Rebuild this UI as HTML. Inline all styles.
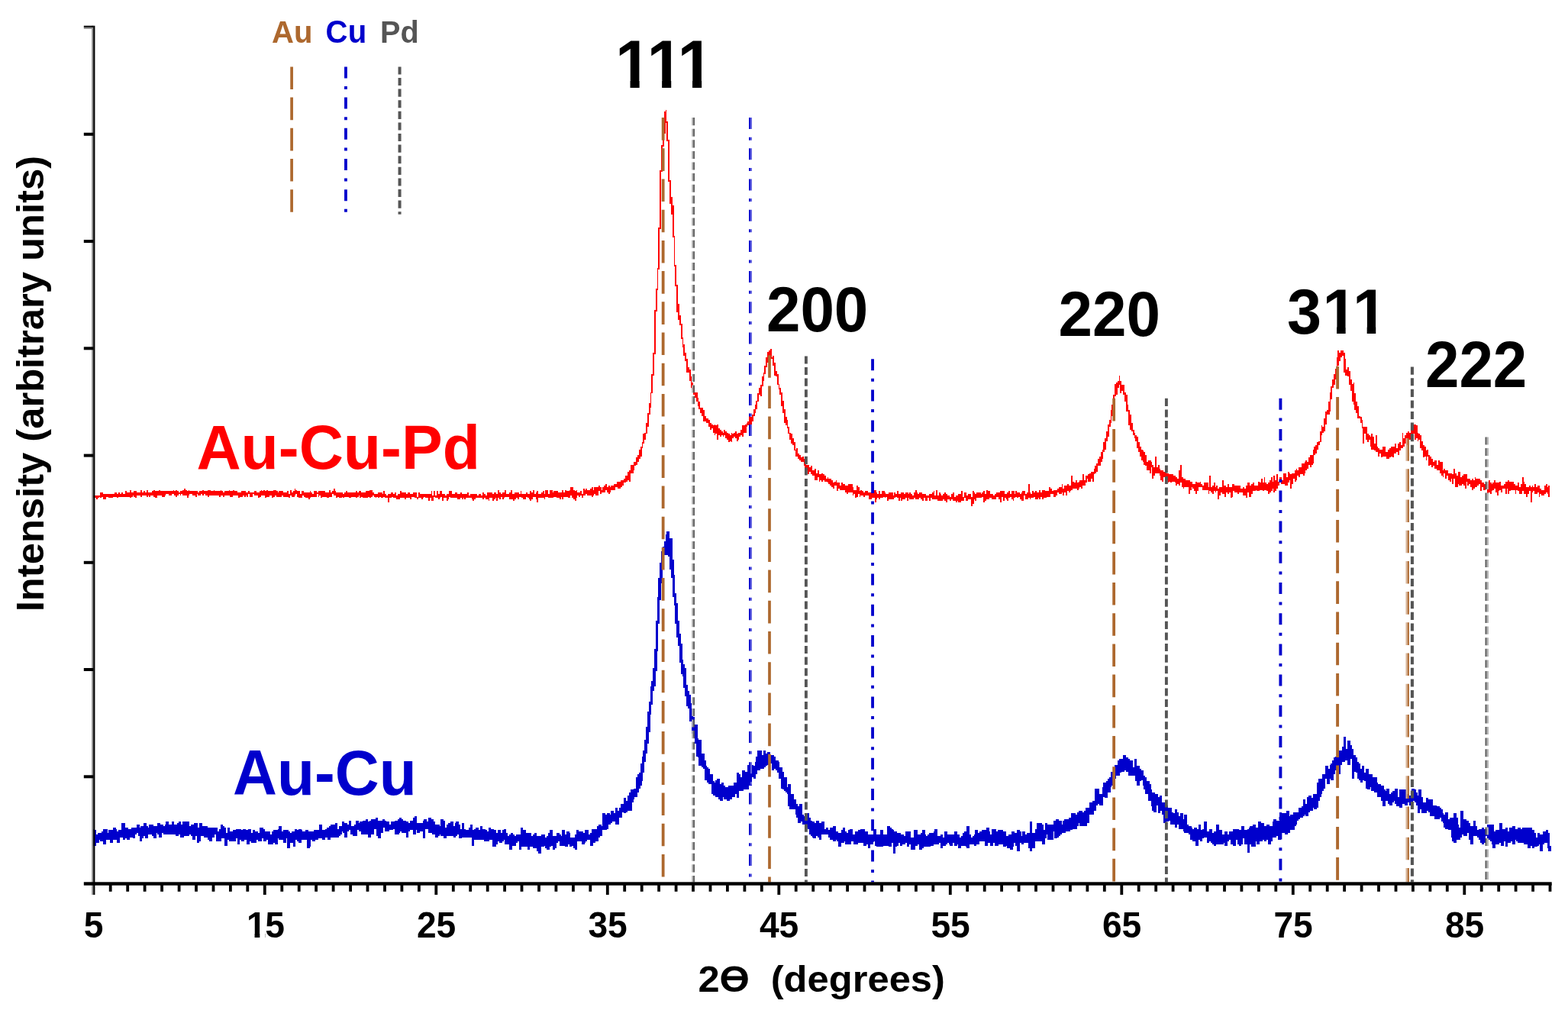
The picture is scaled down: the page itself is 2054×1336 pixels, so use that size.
<!DOCTYPE html>
<html lang="en"><head><meta charset="utf-8"><title>XRD patterns of Au-Cu-Pd and Au-Cu</title>
<style>html,body{margin:0;padding:0;background:#fff;overflow:hidden}svg{display:block}text{font-family:"Liberation Sans",sans-serif;font-weight:bold;white-space:pre}</style></head><body>
<svg width="2054" height="1336" viewBox="0 0 2054 1336">
<rect width="2054" height="1336" fill="#fff"/>
<path d="M122.3 1085.5H124.1V1087.4H126.0V1092.8H127.8V1091.0H133.3V1089.2H135.1V1085.5H140.6V1091.0H142.4V1087.4H147.9V1083.7H151.5V1085.5H153.4V1089.2H155.2V1087.4H158.8V1078.2H164.3V1083.7H168.0V1085.5H171.6V1083.7H179.0V1080.1H182.6V1083.7H184.4V1081.9H188.1V1078.2H191.7V1081.9H193.6V1083.7H195.4V1080.1H200.9V1081.9H206.4V1078.2H210.0V1080.1H213.7V1081.9H215.5V1080.1H217.3V1076.4H221.0V1080.1H224.6V1076.4H228.3V1080.1H231.9V1078.2H233.8V1076.4H237.4V1080.1H239.3V1076.4H248.4V1081.9H250.2V1080.1H253.9V1078.2H259.4V1083.7H261.2V1078.2H264.8V1081.9H272.2V1083.7H284.9V1089.2H286.8V1085.5H288.6V1080.1H292.3V1081.9H294.1V1083.7H295.9V1091.0H297.7V1083.7H301.4V1089.2H305.0V1087.4H308.7V1085.5H316.0V1087.4H317.8V1085.5H321.5V1087.4H325.2V1085.5H328.8V1091.0H330.6V1087.4H334.3V1089.2H337.9V1091.0H339.8V1083.7H345.3V1085.5H347.1V1089.2H354.4V1092.8H356.2V1089.2H358.0V1087.4H363.5V1085.5H365.4V1081.9H369.0V1089.2H370.8V1087.4H378.1V1089.2H380.0V1091.0H381.8V1089.2H385.5V1085.5H389.1V1087.4H390.9V1085.5H394.6V1087.4H396.4V1089.2H400.1V1087.4H403.7V1089.2H411.0V1087.4H418.4V1080.1H422.0V1087.4H425.7V1085.5H427.5V1083.7H431.1V1081.9H433.0V1080.1H438.5V1078.2H442.1V1085.5H443.9V1081.9H447.6V1076.4H451.2V1078.2H454.9V1080.1H456.7V1074.6H460.4V1081.9H464.0V1080.1H465.9V1074.6H469.5V1078.2H471.4V1076.4H475.0V1074.6H478.7V1072.7H482.3V1076.4H484.1V1074.6H486.0V1072.7H491.5V1070.9H495.1V1074.6H500.6V1072.7H504.2V1074.6H506.1V1076.4H509.7V1080.1H511.6V1076.4H517.0V1074.6H520.7V1072.7H522.5V1070.9H526.2V1072.7H528.0V1074.6H531.7V1076.4H535.3V1078.2H537.1V1074.6H540.8V1070.9H542.6V1069.1H546.3V1078.2H553.6V1074.6H555.4V1072.7H559.1V1076.4H560.9V1070.9H564.6V1072.7H568.2V1076.4H570.0V1080.1H575.5V1081.9H577.3V1072.7H581.0V1074.6H582.8V1083.7H584.7V1080.1H586.5V1078.2H590.1V1076.4H593.8V1081.9H595.6V1078.2H597.4V1076.4H601.1V1080.1H602.9V1085.5H604.8V1078.2H608.4V1085.5H610.2V1087.4H613.9V1083.7H615.7V1080.1H619.4V1087.4H621.2V1085.5H623.0V1083.7H626.7V1087.4H628.5V1081.9H632.2V1085.5H635.8V1087.4H637.7V1089.2H639.5V1083.7H643.1V1085.5H646.8V1087.4H650.4V1091.0H652.3V1087.4H655.9V1091.0H657.8V1087.4H659.6V1085.5H663.2V1091.0H665.1V1094.7H666.9V1092.8H668.7V1091.0H672.4V1092.8H674.2V1094.7H676.0V1092.8H681.5V1083.7H685.2V1087.4H688.8V1091.0H696.1V1094.7H698.0V1092.8H699.8V1091.0H703.4V1094.7H708.9V1092.8H714.4V1096.5H716.2V1094.7H718.1V1091.0H719.9V1087.4H723.5V1094.7H729.0V1091.0H732.7V1092.8H734.5V1094.7H736.3V1087.4H740.0V1092.8H741.8V1089.2H745.5V1091.0H747.3V1096.5H752.8V1092.8H754.6V1087.4H758.3V1089.2H763.8V1091.0H765.6V1087.4H771.1V1092.8H772.9V1091.0H774.7V1085.5H782.0V1081.9H783.9V1080.1H787.5V1081.9H789.3V1065.4H793.0V1067.3H794.8V1065.4H798.5V1067.3H800.3V1061.8H804.0V1065.4H805.8V1058.1H809.4V1061.8H811.3V1058.1H813.1V1052.6H816.7V1045.3H820.4V1049.0H822.2V1041.7H824.1V1038.0H825.9V1034.4H829.5V1032.5H833.2V1017.9H835.0V1014.3H836.9V1012.4H838.7V999.6H840.5V990.5H842.3V983.2H844.2V968.6H846.0V952.1H847.8V932.0H849.6V919.2H851.5V899.1H853.3V891.8H855.1V875.4H857.0V849.8H858.8V813.2H860.6V782.2H862.4V756.6H864.3V736.5H866.1V721.9H867.9V716.4H869.7V709.1H871.6V699.9H873.4V696.3H877.1V705.4H880.7V732.8H882.5V752.9H884.4V776.7H886.2V789.5H888.0V813.2H889.8V829.7H891.7V842.5H893.5V864.4H895.3V869.9H897.2V875.4H899.0V897.3H900.8V904.6H902.6V910.1H904.5V921.1H906.3V928.4H908.1V939.3H910.0V948.5H913.6V966.7H915.4V968.6H919.1V986.8H922.7V996.0H924.6V1003.3H926.4V1005.1H928.2V1007.0H930.1V1014.3H933.7V1023.4H935.5V1025.2H937.4V1021.6H939.2V1019.7H942.8V1027.1H944.7V1025.2H948.3V1028.9H950.2V1030.7H953.8V1028.9H961.1V1025.2H964.8V1012.4H968.4V1014.3H970.3V1017.9H972.1V1008.8H975.7V1010.6H979.4V1001.5H986.7V1003.3H988.5V997.8H990.4V990.5H992.2V983.2H997.7V988.7H999.5V983.2H1003.2V986.8H1005.0V985.0H1008.6V988.7H1014.1V990.5H1015.9V996.0H1019.6V997.8H1021.4V1005.1H1025.1V1010.6H1026.9V1017.9H1030.6V1030.7H1032.4V1027.1H1036.0V1039.8H1039.7V1047.2H1043.4V1052.6H1045.2V1056.3H1047.0V1052.6H1050.7V1067.3H1052.5V1069.1H1054.3V1065.4H1059.8V1070.9H1061.6V1074.6H1063.5V1076.4H1067.1V1078.2H1068.9V1074.6H1072.6V1078.2H1076.3V1076.4H1079.9V1085.5H1081.7V1083.7H1085.4V1087.4H1087.2V1083.7H1090.9V1081.9H1094.5V1089.2H1098.2V1091.0H1101.8V1087.4H1103.7V1083.7H1107.3V1089.2H1109.2V1091.0H1111.0V1087.4H1112.8V1085.5H1116.5V1092.8H1120.1V1089.2H1123.8V1087.4H1127.4V1085.5H1132.9V1089.2H1136.6V1092.8H1143.9V1085.5H1147.5V1092.8H1153.0V1087.4H1156.7V1092.8H1162.1V1081.9H1165.8V1083.7H1167.6V1085.5H1169.5V1087.4H1171.3V1089.2H1174.9V1091.0H1180.4V1092.8H1184.1V1094.7H1185.9V1089.2H1193.2V1096.5H1196.9V1087.4H1202.4V1092.8H1206.0V1091.0H1207.8V1087.4H1211.5V1092.8H1213.3V1094.7H1215.1V1092.8H1217.0V1091.0H1222.5V1089.2H1224.3V1085.5H1227.9V1094.7H1231.6V1092.8H1235.2V1096.5H1237.1V1089.2H1240.7V1092.8H1249.9V1089.2H1253.5V1092.8H1257.2V1096.5H1259.0V1094.7H1260.8V1091.0H1262.7V1089.2H1266.3V1081.9H1270.0V1092.8H1271.8V1096.5H1273.6V1094.7H1275.5V1092.8H1277.3V1087.4H1280.9V1091.0H1282.8V1089.2H1286.4V1087.4H1291.9V1083.7H1295.6V1089.2H1297.4V1092.8H1299.2V1085.5H1304.7V1089.2H1306.5V1087.4H1313.8V1089.2H1317.5V1094.7H1321.1V1092.8H1324.8V1089.2H1328.5V1091.0H1332.1V1087.4H1335.8V1089.2H1337.6V1094.7H1339.4V1089.2H1343.1V1092.8H1344.9V1091.0H1348.6V1076.4H1352.2V1091.0H1355.9V1085.5H1357.7V1078.2H1365.0V1080.1H1366.8V1087.4H1368.7V1078.2H1372.3V1080.1H1379.6V1074.6H1383.3V1072.7H1386.9V1074.6H1390.6V1080.1H1392.4V1074.6H1394.2V1072.7H1399.7V1070.9H1403.4V1065.4H1408.9V1067.3H1410.7V1063.6H1412.5V1061.8H1418.0V1063.6H1419.8V1061.8H1421.7V1058.1H1427.1V1050.8H1430.8V1049.0H1434.4V1032.5H1439.9V1039.8H1443.6V1030.7H1445.4V1025.2H1449.1V1023.4H1450.9V1019.7H1452.7V1017.9H1454.5V1010.6H1458.2V1005.1H1460.0V1001.5H1463.7V996.0H1465.5V994.2H1471.0V988.7H1474.7V992.3H1478.3V994.2H1480.1V996.0H1483.8V1005.1H1485.6V994.2H1489.3V1003.3H1492.9V1007.0H1494.8V1008.8H1498.4V1016.1H1500.2V1017.9H1502.1V1023.4H1505.7V1027.1H1507.5V1034.4H1509.4V1038.0H1513.0V1039.8H1516.7V1043.5H1518.5V1041.7H1522.2V1050.8H1527.6V1054.5H1529.5V1058.1H1535.0V1063.6H1536.8V1065.4H1538.6V1060.0H1542.3V1063.6H1544.1V1069.1H1545.9V1065.4H1549.6V1072.7H1551.4V1067.3H1555.1V1080.1H1556.9V1081.9H1560.5V1083.7H1562.4V1085.5H1564.2V1083.7H1567.9V1085.5H1569.7V1080.1H1573.3V1087.4H1575.2V1085.5H1577.0V1076.4H1580.6V1089.2H1584.3V1085.5H1588.0V1091.0H1589.8V1089.2H1593.4V1080.1H1597.1V1087.4H1600.7V1092.8H1604.4V1089.2H1608.1V1092.8H1609.9V1089.2H1615.4V1085.5H1622.7V1087.4H1626.3V1081.9H1630.0V1087.4H1633.6V1085.5H1635.5V1083.7H1637.3V1081.9H1641.0V1080.1H1644.6V1083.7H1648.3V1076.4H1651.9V1078.2H1655.6V1081.9H1659.2V1080.1H1662.9V1081.9H1666.5V1076.4H1668.4V1072.7H1672.0V1074.6H1675.7V1063.6H1679.3V1065.4H1684.8V1061.8H1688.5V1069.1H1690.3V1067.3H1694.0V1063.6H1701.3V1058.1H1704.9V1056.3H1706.7V1047.2H1710.4V1052.6H1712.2V1043.5H1714.1V1041.7H1717.7V1045.3H1719.5V1039.8H1725.0V1025.2H1726.8V1019.7H1732.3V1014.3H1736.0V1003.3H1739.6V1007.0H1741.5V1001.5H1743.3V999.6H1745.1V996.0H1746.9V992.3H1748.8V990.5H1750.6V988.7H1754.3V983.2H1757.9V977.7H1759.7V964.9H1763.4V981.4H1765.2V970.4H1768.9V975.9H1770.7V981.4H1772.5V988.7H1776.2V992.3H1778.0V997.8H1779.8V999.6H1781.7V1007.0H1783.5V1003.3H1787.2V1012.4H1789.0V1007.0H1792.6V1014.3H1798.1V1017.9H1803.6V1025.2H1805.4V1027.1H1809.1V1028.9H1812.7V1034.4H1814.6V1036.2H1816.4V1032.5H1820.0V1039.8H1821.9V1038.0H1823.7V1036.2H1827.4V1032.5H1831.0V1043.5H1832.8V1034.4H1842.0V1039.8H1845.6V1041.7H1847.5V1036.2H1849.3V1032.5H1852.9V1034.4H1854.8V1038.0H1856.6V1041.7H1858.4V1034.4H1862.1V1043.5H1863.9V1050.8H1867.6V1045.3H1871.2V1047.2H1876.7V1054.5H1882.2V1056.3H1885.8V1058.1H1887.7V1060.0H1889.5V1065.4H1891.3V1067.3H1893.1V1063.6H1896.8V1072.7H1898.6V1070.9H1904.1V1065.4H1907.8V1070.9H1909.6V1080.1H1911.4V1083.7H1913.2V1061.8H1916.9V1072.7H1920.6V1074.6H1924.2V1078.2H1926.0V1081.9H1929.7V1074.6H1933.4V1081.9H1935.2V1087.4H1937.0V1085.5H1940.7V1083.7H1944.3V1085.5H1948.0V1080.1H1957.1V1089.2H1958.9V1087.4H1964.4V1078.2H1968.1V1085.5H1971.7V1083.7H1975.4V1089.2H1977.2V1083.7H1980.9V1081.9H1984.5V1085.5H1988.2V1083.7H1991.8V1085.5H1993.7V1083.7H2006.5V1087.4H2010.1V1091.0H2011.9V1096.5H2013.8V1091.0H2017.4V1092.8H2021.1V1089.2H2024.7V1087.4H2028.4V1091.0H2030.2V1107.5H2032.0V1114.8H2028.4V1111.1H2026.6V1103.8H2022.9V1105.6H2021.1V1114.8H2017.4V1105.6H2015.6V1107.5H2013.8V1109.3H2010.1V1111.1H2006.5V1107.5H2004.6V1111.1H2001.0V1105.6H1995.5V1103.8H1988.2V1102.0H1986.3V1100.2H1984.5V1105.6H1980.9V1102.0H1979.0V1103.8H1975.4V1109.3H1971.7V1102.0H1969.9V1107.5H1966.2V1103.8H1964.4V1105.6H1958.9V1111.1H1955.3V1105.6H1953.5V1102.0H1951.6V1100.2H1949.8V1098.3H1948.0V1094.7H1946.1V1103.8H1944.3V1105.6H1940.7V1103.8H1938.8V1100.2H1937.0V1096.5H1935.2V1094.7H1929.7V1105.6H1926.0V1100.2H1924.2V1091.0H1922.4V1094.7H1916.9V1092.8H1915.1V1096.5H1913.2V1100.2H1907.8V1103.8H1904.1V1102.0H1902.3V1096.5H1900.5V1087.4H1896.8V1085.5H1893.1V1083.7H1891.3V1078.2H1889.5V1076.4H1887.7V1070.9H1885.8V1072.7H1878.5V1069.1H1873.0V1063.6H1871.2V1061.8H1869.4V1065.4H1862.1V1060.0H1860.3V1065.4H1856.6V1054.5H1854.8V1050.8H1852.9V1049.0H1851.1V1054.5H1845.6V1050.8H1843.8V1054.5H1840.1V1052.6H1836.5V1058.1H1832.8V1056.3H1829.2V1052.6H1827.4V1049.0H1825.5V1050.8H1823.7V1054.5H1820.0V1052.6H1818.2V1049.0H1814.6V1056.3H1810.9V1049.0H1809.1V1043.5H1803.6V1038.0H1799.9V1036.2H1796.3V1030.7H1794.5V1034.4H1790.8V1032.5H1789.0V1023.4H1787.2V1021.6H1785.3V1025.2H1781.7V1021.6H1779.8V1019.7H1778.0V1012.4H1776.2V1010.6H1774.4V1019.7H1770.7V994.2H1768.9V1001.5H1765.2V996.0H1761.6V997.8H1757.9V1001.5H1756.1V1014.3H1752.4V1012.4H1750.6V1008.8H1748.8V1014.3H1746.9V1021.6H1743.3V1019.7H1741.5V1027.1H1737.8V1019.7H1736.0V1032.5H1734.2V1036.2H1732.3V1039.8H1730.5V1043.5H1728.7V1049.0H1726.8V1058.1H1725.0V1060.0H1721.4V1058.1H1719.5V1061.8H1715.9V1063.6H1714.1V1069.1H1710.4V1067.3H1708.6V1069.1H1706.7V1070.9H1703.1V1072.7H1701.3V1074.6H1699.4V1080.1H1697.6V1081.9H1695.8V1087.4H1690.3V1091.0H1686.6V1092.8H1683.0V1091.0H1679.3V1087.4H1677.5V1100.2H1673.8V1094.7H1672.0V1096.5H1666.5V1102.0H1664.7V1105.6H1661.1V1100.2H1659.2V1102.0H1655.6V1100.2H1653.7V1102.0H1650.1V1105.6H1646.4V1102.0H1644.6V1109.3H1639.1V1105.6H1637.3V1116.6H1633.6V1105.6H1630.0V1098.3H1628.2V1105.6H1626.3V1107.5H1622.7V1105.6H1620.8V1100.2H1619.0V1107.5H1615.4V1105.6H1611.7V1100.2H1609.9V1102.0H1608.1V1107.5H1604.4V1103.8H1602.6V1105.6H1593.4V1107.5H1589.8V1105.6H1588.0V1103.8H1586.1V1102.0H1584.3V1103.8H1580.6V1096.5H1577.0V1098.3H1575.2V1102.0H1571.5V1100.2H1569.7V1107.5H1566.0V1102.0H1562.4V1100.2H1558.7V1092.8H1556.9V1091.0H1551.4V1089.2H1549.6V1085.5H1544.1V1080.1H1542.3V1083.7H1538.6V1080.1H1533.1V1074.6H1531.3V1076.4H1527.6V1078.2H1524.0V1067.3H1522.2V1061.8H1520.3V1065.4H1516.7V1054.5H1514.9V1063.6H1511.2V1061.8H1509.4V1056.3H1507.5V1049.0H1503.9V1039.8H1500.2V1034.4H1498.4V1028.9H1496.6V1021.6H1494.8V1023.4H1492.9V1028.9H1489.3V1023.4H1487.4V1016.1H1478.3V1010.6H1474.6V1008.8H1472.8V1010.6H1469.2V1012.4H1467.3V1016.1H1461.9V1019.7H1460.0V1028.9H1456.4V1030.7H1454.5V1038.0H1450.9V1045.3H1447.2V1043.5H1445.4V1054.5H1439.9V1052.6H1438.1V1054.5H1436.3V1061.8H1432.6V1067.3H1427.1V1078.2H1423.5V1081.9H1414.3V1078.2H1412.5V1081.9H1410.7V1085.5H1405.2V1087.4H1401.5V1089.2H1396.1V1091.0H1390.6V1092.8H1388.8V1094.7H1386.9V1096.5H1385.1V1098.3H1381.4V1089.2H1379.6V1100.2H1372.3V1092.8H1370.5V1098.3H1368.7V1105.6H1365.0V1102.0H1355.9V1111.1H1352.2V1114.8H1348.6V1111.1H1346.7V1103.8H1341.2V1105.6H1337.6V1103.8H1335.8V1114.8H1332.1V1107.5H1330.3V1103.8H1328.4V1109.3H1326.6V1112.9H1323.0V1111.1H1319.3V1107.5H1317.5V1109.3H1313.8V1105.6H1308.3V1107.5H1302.9V1103.8H1301.0V1107.5H1297.4V1103.8H1293.7V1107.5H1290.1V1102.0H1282.8V1105.6H1279.1V1107.5H1275.5V1105.6H1270.0V1111.1H1266.3V1109.3H1264.5V1107.5H1259.0V1111.1H1255.3V1105.6H1253.5V1107.5H1249.9V1103.8H1248.0V1107.5H1244.4V1105.6H1242.6V1103.8H1240.7V1105.6H1238.9V1107.5H1235.2V1111.1H1231.6V1103.8H1229.8V1105.6H1222.5V1107.5H1218.8V1109.3H1209.7V1111.1H1207.8V1112.9H1204.2V1105.6H1202.4V1107.5H1198.7V1112.9H1193.2V1105.6H1191.4V1109.3H1187.7V1103.8H1185.9V1105.6H1182.2V1107.5H1178.6V1103.8H1176.8V1107.5H1174.9V1109.3H1173.1V1118.4H1169.5V1103.8H1167.6V1109.3H1164.0V1107.5H1156.7V1109.3H1147.5V1107.5H1145.7V1102.0H1143.9V1105.6H1140.2V1111.1H1136.6V1105.6H1134.7V1107.5H1131.1V1103.8H1123.8V1105.6H1118.3V1102.0H1114.6V1105.6H1107.3V1102.0H1105.5V1103.8H1101.8V1109.3H1098.2V1102.0H1096.4V1100.2H1094.5V1102.0H1090.9V1100.2H1087.2V1096.5H1085.4V1092.8H1076.3V1100.2H1072.6V1096.5H1070.8V1094.7H1068.9V1098.3H1065.3V1096.5H1063.5V1094.7H1061.6V1092.8H1059.8V1085.5H1058.0V1083.7H1054.3V1080.1H1050.7V1076.4H1048.8V1078.2H1045.2V1070.9H1043.4V1067.3H1041.5V1060.0H1034.2V1056.3H1032.4V1039.8H1030.6V1038.0H1028.7V1036.2H1026.9V1034.4H1025.1V1032.5H1023.3V1019.7H1019.6V1012.4H1017.8V1008.8H1015.9V1007.0H1014.1V1008.8H1010.5V999.6H1006.8V1001.5H1005.0V1003.3H1003.2V1005.1H1001.3V1007.0H995.8V1008.8H992.2V1014.3H990.4V1019.7H986.7V1017.9H984.9V1028.9H981.2V1034.4H973.9V1036.2H968.4V1045.3H964.8V1039.8H962.9V1043.5H959.3V1047.2H955.6V1049.0H952.0V1047.2H948.3V1043.5H946.5V1049.0H942.8V1047.2H941.0V1043.5H937.4V1041.7H933.7V1039.8H931.9V1027.1H928.2V1025.2H926.4V1021.6H922.7V1007.0H920.9V1005.1H919.1V1003.3H915.4V992.3H913.6V990.5H911.8V974.1H910.0V964.9H908.1V961.3H906.3V944.8H902.6V928.4H900.8V924.7H899.0V911.9H897.2V901.0H895.3V886.3H893.5V882.7H891.7V868.1H889.8V846.1H888.0V835.2H886.2V816.9H884.4V793.1H882.5V782.2H880.7V756.6H878.9V745.6H877.1V729.2H875.2V727.3H869.7V740.1H867.9V763.9H866.1V785.8H864.3V816.9H862.4V853.4H860.6V879.0H858.8V899.1H857.0V904.6H855.1V922.9H853.3V935.7H851.5V959.4H849.6V974.1H847.8V986.8H846.0V997.8H844.2V1012.4H842.3V1023.4H840.5V1028.9H838.7V1032.5H836.9V1038.0H835.0V1043.5H831.4V1047.2H829.5V1050.8H827.7V1061.8H822.2V1063.6H820.4V1065.4H816.7V1063.6H814.9V1070.9H811.3V1080.1H805.8V1076.4H802.1V1078.2H800.3V1080.1H796.6V1085.5H794.8V1087.4H789.3V1094.7H785.7V1096.5H783.9V1102.0H780.2V1103.8H776.5V1107.5H772.9V1100.2H769.2V1102.0H767.4V1103.8H765.6V1105.6H761.9V1102.0H756.4V1112.9H752.8V1111.1H751.0V1107.5H749.1V1109.3H745.5V1105.6H743.6V1109.3H740.0V1107.5H732.7V1102.0H730.9V1103.8H729.0V1111.1H727.2V1112.9H723.5V1107.5H721.7V1109.3H719.9V1112.9H716.2V1111.1H714.4V1107.5H712.6V1109.3H708.9V1118.4H705.3V1114.8H703.4V1111.1H698.0V1109.3H694.3V1112.9H690.7V1109.3H683.3V1112.9H679.7V1102.0H677.9V1103.8H676.0V1107.5H670.5V1112.9H666.9V1105.6H661.4V1100.2H659.6V1102.0H657.8V1103.8H654.1V1102.0H652.3V1105.6H650.4V1109.3H645.0V1100.2H641.3V1102.0H634.0V1100.2H621.2V1107.5H617.6V1096.5H604.8V1098.3H601.1V1092.8H599.3V1094.7H597.4V1096.5H593.8V1094.7H584.7V1098.3H581.0V1094.7H577.3V1092.8H575.5V1094.7H573.7V1096.5H570.0V1092.8H566.4V1091.0H560.9V1085.5H557.2V1098.3H553.6V1089.2H549.9V1091.0H546.3V1087.4H544.5V1092.8H540.8V1087.4H537.1V1089.2H535.3V1096.5H531.7V1091.0H526.2V1089.2H524.3V1091.0H522.5V1092.8H517.0V1085.5H515.2V1087.4H509.7V1089.2H504.2V1083.7H502.4V1091.0H498.8V1098.3H495.1V1094.7H493.3V1085.5H489.6V1092.8H486.0V1096.5H482.3V1092.8H473.2V1089.2H469.5V1087.4H467.7V1094.7H462.2V1092.8H458.6V1087.4H456.7V1089.2H454.9V1096.5H451.2V1091.0H449.4V1089.2H447.6V1092.8H445.8V1094.7H443.9V1096.5H433.0V1100.2H429.3V1096.5H425.7V1100.2H422.0V1098.3H416.5V1100.2H412.9V1102.0H409.2V1100.2H407.4V1109.3H405.6V1111.1H401.9V1100.2H394.6V1103.8H390.9V1102.0H389.1V1100.2H387.3V1109.3H383.6V1103.8H380.0V1111.1H376.3V1098.3H374.5V1103.8H370.8V1100.2H365.4V1098.3H363.5V1105.6H359.9V1103.8H358.0V1105.6H350.7V1100.2H348.9V1102.0H345.3V1098.3H343.4V1102.0H337.9V1100.2H336.1V1103.8H328.8V1102.0H327.0V1105.6H323.3V1100.2H319.7V1102.0H316.0V1100.2H314.2V1105.6H310.5V1098.3H308.7V1102.0H299.6V1100.2H297.7V1107.5H294.1V1098.3H290.4V1102.0H283.1V1092.8H281.3V1096.5H277.6V1102.0H274.0V1100.2H272.2V1096.5H266.7V1094.7H263.0V1102.0H261.2V1103.8H257.5V1094.7H255.7V1100.2H252.1V1094.7H250.2V1092.8H248.4V1094.7H241.1V1096.5H235.6V1092.8H233.8V1094.7H230.1V1092.8H213.7V1091.0H211.8V1096.5H208.2V1092.8H206.4V1091.0H204.5V1098.3H200.9V1094.7H199.1V1092.8H193.6V1098.3H189.9V1094.7H188.1V1098.3H186.3V1102.0H182.6V1094.7H180.8V1091.0H179.0V1092.8H177.1V1098.3H173.5V1096.5H169.8V1100.2H166.2V1098.3H164.3V1100.2H160.7V1096.5H157.0V1103.8H153.4V1100.2H147.9V1103.8H144.2V1100.2H138.7V1105.6H135.1V1102.0H131.4V1100.2H129.6V1103.8H126.0V1107.5H122.3Z" fill="#0000CC" shape-rendering="crispEdges"/>
<path d="M122.3 648.8H131.4V645.1H135.1V646.9H149.7V645.1H153.4V646.9H155.2V645.1H157.0V646.9H158.8V645.1H160.7V646.9H164.3V643.3H166.2V645.1H169.8V641.5H171.6V645.1H175.3V643.3H179.0V645.1H184.4V641.5H186.3V645.1H188.1V643.3H189.9V645.1H191.7V641.5H193.6V645.1H199.1V643.3H200.9V641.5H202.7V643.3H208.2V641.5H210.0V643.3H226.5V641.5H228.3V643.3H230.1V641.5H231.9V643.3H233.8V645.1H235.6V643.3H239.3V641.5H241.1V639.6H242.9V641.5H244.7V643.3H246.6V641.5H248.4V643.3H259.4V645.1H261.2V643.3H264.8V641.5H266.7V643.3H272.2V641.5H275.8V643.3H279.5V641.5H281.3V643.3H288.6V641.5H290.4V643.3H292.3V645.1H294.1V643.3H299.6V641.5H301.4V643.3H305.0V641.5H306.9V643.3H310.5V645.1H316.0V643.3H321.5V645.1H325.2V643.3H327.0V645.1H332.5V643.3H336.1V645.1H339.8V643.3H341.6V641.5H343.4V643.3H345.3V641.5H347.1V643.3H348.9V641.5H350.7V643.3H358.0V641.5H361.7V643.3H363.5V645.1H365.4V643.3H370.8V645.1H376.3V643.3H378.1V646.9H380.0V641.5H381.8V645.1H383.6V643.3H385.5V639.6H387.3V641.5H389.1V643.3H392.8V646.9H394.6V643.3H398.3V645.1H405.6V643.3H407.4V645.1H409.2V646.9H411.0V643.3H414.7V645.1H416.5V643.3H425.7V645.1H431.1V641.5H433.0V645.1H434.8V643.3H436.6V639.6H438.5V643.3H440.3V645.1H449.4V646.9H451.2V645.1H453.1V643.3H454.9V645.1H465.9V643.3H467.7V645.1H469.5V643.3H473.2V645.1H478.7V643.3H484.1V641.5H487.8V645.1H489.6V646.9H495.1V645.1H500.6V646.9H502.4V643.3H504.2V646.9H506.1V648.8H507.9V646.9H511.6V645.1H515.2V646.9H517.0V645.1H518.9V648.8H520.7V646.9H524.3V643.3H526.2V645.1H531.7V646.9H533.5V645.1H537.1V646.9H540.8V645.1H546.3V650.6H548.1V645.1H549.9V646.9H564.6V643.3H566.4V648.8H568.2V643.3H570.0V648.8H571.9V643.3H573.7V646.9H575.5V643.3H579.2V646.9H582.8V648.8H584.7V646.9H588.3V643.3H592.0V646.9H595.6V645.1H599.3V646.9H602.9V645.1H604.8V646.9H612.1V645.1H613.9V648.8H615.7V646.9H624.9V648.8H626.7V646.9H630.3V648.8H632.2V645.1H634.0V646.9H635.8V648.8H637.7V645.1H645.0V646.9H646.8V645.1H650.4V646.9H652.3V641.5H654.1V645.1H655.9V646.9H657.8V645.1H661.4V641.5H663.2V646.9H666.9V645.1H668.7V641.5H670.5V646.9H674.2V645.1H679.7V646.9H681.5V643.3H683.3V646.9H688.8V645.1H690.7V646.9H694.3V643.3H696.1V645.1H698.0V641.5H699.8V646.9H701.6V645.1H703.4V643.3H705.3V646.9H708.9V645.1H710.8V643.3H712.6V646.9H714.4V641.5H718.1V646.9H719.9V641.5H723.5V645.1H725.4V643.3H730.9V645.1H736.3V641.5H738.2V645.1H740.0V641.5H741.8V643.3H745.5V641.5H747.3V637.8H751.0V641.5H752.8V643.3H754.6V641.5H756.4V645.1H760.1V643.3H761.9V646.9H763.8V639.6H765.6V641.5H767.4V639.6H769.2V641.5H772.9V639.6H774.7V637.8H776.5V641.5H778.4V637.8H783.9V636.0H785.7V637.8H787.5V641.5H789.3V637.8H791.2V636.0H793.0V634.1H794.8V637.8H796.6V636.0H798.5V637.8H800.3V636.0H804.0V634.1H807.6V630.5H813.1V628.7H816.7V626.8H818.6V623.2H822.2V617.7H824.1V615.9H825.9V608.6H829.5V604.9H833.2V599.4H835.0V595.8H836.9V588.5H838.7V584.8H840.5V579.3H842.3V568.4H844.2V566.5H846.0V553.7H847.8V540.9H849.6V528.1H851.5V513.5H853.3V489.8H855.1V462.4H857.0V405.7H858.8V378.3H860.6V350.9H862.4V297.9H864.3V223.0H866.1V190.1H867.9V173.6H869.7V146.2H871.6V144.4H873.4V159.0H875.2V182.8H877.1V235.7H878.9V257.7H880.7V268.6H882.5V308.8H884.4V347.2H886.2V372.8H888.0V398.4H889.8V413.0H891.7V424.0H893.5V442.3H895.3V451.4H897.2V462.4H899.0V469.7H900.8V480.6H902.6V484.3H904.5V493.4H906.3V500.7H908.1V506.2H910.0V513.5H913.6V520.8H915.4V526.3H917.3V533.6H920.9V537.3H922.7V544.6H924.6V548.2H928.2V550.1H930.1V553.7H931.9V555.6H933.7V557.4H935.5V555.6H937.4V557.4H939.2V555.6H941.0V561.0H942.8V562.9H944.7V564.7H946.5V566.5H948.3V562.9H950.2V564.7H952.0V566.5H953.8V568.4H955.6V570.2H957.5V566.5H959.3V568.4H961.1V566.5H962.9V564.7H964.8V568.4H966.6V566.5H970.3V562.9H972.1V557.4H975.7V555.6H977.6V553.7H979.4V551.9H981.2V544.6H983.1V546.4H984.9V542.8H986.7V535.5H988.5V530.0H990.4V524.5H992.2V515.4H994.0V508.0H995.8V504.4H997.7V493.4H999.5V487.9H1001.3V478.8H1003.2V467.8H1005.0V460.5H1006.8V458.7H1008.6V456.9H1010.5V467.8H1012.3V466.0H1014.1V475.1H1015.9V486.1H1017.8V489.8H1019.6V502.6H1021.4V508.0H1023.3V513.5H1025.1V524.5H1026.9V535.5H1028.7V546.4H1030.6V550.1H1032.4V559.2H1034.2V566.5H1036.0V568.4H1037.9V573.8H1039.7V579.3H1041.5V588.5H1043.4V586.6H1045.2V593.9H1047.0V595.8H1048.8V599.4H1050.7V597.6H1052.5V601.2H1054.3V606.7H1056.2V608.6H1059.8V612.2H1061.6V610.4H1063.5V615.9H1067.1V614.0H1068.9V619.5H1070.8V615.9H1072.6V621.4H1076.3V619.5H1078.1V621.4H1079.9V623.2H1081.7V626.8H1083.6V625.0H1085.4V626.8H1089.0V628.7H1090.9V632.3H1092.7V630.5H1094.5V628.7H1096.4V632.3H1100.0V636.0H1101.8V632.3H1103.7V634.1H1107.3V636.0H1111.0V634.1H1116.5V637.8H1118.3V641.5H1121.9V636.0H1123.8V637.8H1125.6V643.3H1127.4V641.5H1129.3V643.3H1131.1V645.1H1132.9V643.3H1136.6V645.1H1142.0V639.6H1143.9V641.5H1147.5V645.1H1149.4V646.9H1151.2V643.3H1153.0V646.9H1154.8V643.3H1158.5V645.1H1160.3V646.9H1164.0V645.1H1169.5V648.8H1171.3V645.1H1173.1V646.9H1174.9V643.3H1176.8V646.9H1180.4V645.1H1184.1V646.9H1185.9V645.1H1189.6V646.9H1191.4V645.1H1193.2V646.9H1195.0V648.8H1196.9V645.1H1198.7V641.5H1200.5V645.1H1202.4V646.9H1204.2V645.1H1207.8V646.9H1213.3V648.8H1217.0V646.9H1220.6V645.1H1222.5V643.3H1224.3V648.8H1226.1V641.5H1227.9V648.8H1229.8V645.1H1231.6V646.9H1233.4V648.8H1235.2V646.9H1237.1V645.1H1238.9V646.9H1240.7V648.8H1244.4V650.6H1246.2V646.9H1248.0V645.1H1249.9V650.6H1251.7V648.8H1255.3V646.9H1259.0V643.3H1260.8V650.6H1262.7V645.1H1266.3V648.8H1268.1V646.9H1271.8V650.6H1273.6V643.3H1275.5V645.1H1277.3V646.9H1279.1V645.1H1284.6V646.9H1286.4V645.1H1288.2V643.3H1290.1V646.9H1291.9V641.5H1293.7V643.3H1297.4V646.9H1301.0V648.8H1302.9V646.9H1304.7V645.1H1310.2V643.3H1315.7V646.9H1319.3V645.1H1321.1V643.3H1323.0V646.9H1324.8V643.3H1328.5V646.9H1330.3V643.3H1332.1V645.1H1335.8V646.9H1337.6V645.1H1339.4V643.3H1343.1V646.9H1344.9V645.1H1346.7V634.1H1348.6V645.1H1350.4V646.9H1352.2V643.3H1354.0V645.1H1355.9V643.3H1357.7V645.1H1361.3V641.5H1363.2V645.1H1365.0V641.5H1368.7V643.3H1374.1V637.8H1376.0V639.6H1377.8V643.3H1379.6V641.5H1385.1V639.6H1386.9V637.8H1390.6V634.1H1392.4V639.6H1394.2V636.0H1397.9V634.1H1399.7V636.0H1403.4V623.2H1405.2V630.5H1407.0V632.3H1408.9V628.7H1410.7V632.3H1412.5V630.5H1414.3V628.7H1418.0V621.4H1419.8V628.7H1421.7V623.2H1425.3V621.4H1427.1V619.5H1429.0V617.7H1432.6V614.0H1434.4V610.4H1436.3V606.7H1438.1V601.2H1439.9V597.6H1441.8V592.1H1443.6V588.5H1445.4V579.3H1447.2V573.8H1449.1V564.7H1450.9V555.6H1452.7V550.1H1454.5V537.3H1456.4V530.0H1458.2V517.2H1460.0V502.6H1461.9V500.7H1463.7V498.9H1465.5V491.6H1467.3V498.9H1469.2V504.4H1472.8V513.5H1474.7V517.2H1476.5V530.0H1478.3V537.3H1480.1V542.8H1482.0V553.7H1483.8V562.9H1485.6V566.5H1487.4V570.2H1489.3V572.0H1491.1V579.3H1492.9V584.8H1494.8V588.5H1496.6V590.3H1498.4V592.1H1500.2V595.8H1502.1V604.9H1503.9V603.1H1507.5V604.9H1509.4V608.6H1511.2V612.2H1513.0V597.6H1514.9V612.2H1516.7V608.6H1518.5V614.0H1520.3V615.9H1524.0V617.7H1525.8V612.2H1527.6V619.5H1531.3V621.4H1536.8V623.2H1540.4V625.0H1542.3V626.8H1544.1V615.9H1545.9V608.6H1547.8V625.0H1549.6V626.8H1553.2V628.7H1558.7V630.5H1562.4V634.1H1566.0V630.5H1567.9V632.3H1571.5V630.5H1573.3V634.1H1575.2V636.0H1577.0V632.3H1582.5V637.8H1584.3V623.2H1586.1V637.8H1588.0V636.0H1589.8V632.3H1591.6V637.8H1593.4V636.0H1595.3V639.6H1597.1V637.8H1600.7V628.7H1602.6V636.0H1606.2V637.8H1608.1V634.1H1609.9V637.8H1613.5V634.1H1617.2V636.0H1624.5V639.6H1628.2V637.8H1630.0V639.6H1631.8V636.0H1633.6V632.3H1637.3V636.0H1639.1V634.1H1641.0V632.3H1642.8V636.0H1648.3V630.5H1650.1V632.3H1651.9V626.8H1653.7V632.3H1655.6V625.0H1657.4V632.3H1659.2V634.1H1661.1V632.3H1662.9V628.7H1664.7V625.0H1666.5V630.5H1668.4V623.2H1670.2V628.7H1672.0V621.4H1673.8V630.5H1675.7V625.0H1679.3V628.7H1681.2V619.5H1684.8V625.0H1686.6V617.7H1688.5V619.5H1690.3V621.4H1692.1V619.5H1695.8V615.9H1697.6V614.0H1699.4V615.9H1701.3V612.2H1704.9V606.7H1708.6V604.9H1710.4V603.1H1712.2V604.9H1714.1V599.4H1715.9V595.8H1719.5V588.5H1721.4V584.8H1723.2V583.0H1725.0V579.3H1726.8V577.5H1728.7V564.7H1730.5V557.4H1732.3V559.2H1734.2V548.2H1736.0V539.1H1737.8V537.3H1739.6V526.3H1741.5V513.5H1743.3V506.2H1745.1V497.1H1746.9V489.8H1748.8V482.5H1750.6V467.8H1752.4V458.7H1754.3V462.4H1756.1V458.7H1759.7V462.4H1761.6V469.7H1763.4V484.3H1765.2V480.6H1767.0V486.1H1768.9V497.1H1770.7V502.6H1772.5V500.7H1774.4V515.4H1776.2V526.3H1778.0V531.8H1779.8V544.6H1781.7V546.4H1783.5V550.1H1785.3V559.2H1790.8V568.4H1792.6V570.2H1794.5V572.0H1796.3V568.4H1798.1V572.0H1799.9V581.1H1801.8V570.2H1803.6V584.8H1805.4V586.6H1807.3V588.5H1810.9V584.8H1814.6V592.1H1818.2V588.5H1820.0V586.6H1821.9V584.8H1827.4V581.1H1829.2V586.6H1831.0V581.1H1832.8V579.3H1834.7V583.0H1836.5V566.5H1838.3V573.8H1840.1V570.2H1842.0V566.5H1843.8V564.7H1845.6V566.5H1847.5V561.0H1849.3V562.9H1851.1V555.6H1854.8V557.4H1856.6V566.5H1858.4V568.4H1860.3V570.2H1862.1V577.5H1863.9V583.0H1865.7V584.8H1867.6V590.3H1869.4V588.5H1871.2V595.8H1873.0V597.6H1874.9V601.2H1876.7V604.9H1878.5V603.1H1882.2V608.6H1884.0V603.1H1885.8V604.9H1889.5V615.9H1891.3V614.0H1893.1V615.9H1896.8V619.5H1902.3V621.4H1904.1V614.0H1905.9V619.5H1907.8V623.2H1909.6V617.7H1913.2V625.0H1915.1V623.2H1916.9V621.4H1922.4V626.8H1926.0V628.7H1927.9V626.8H1929.7V628.7H1931.5V625.0H1933.4V626.8H1938.8V628.7H1940.7V632.3H1944.3V634.1H1946.1V632.3H1948.0V634.1H1949.8V628.7H1951.6V632.3H1953.5V634.1H1955.3V632.3H1957.1V628.7H1958.9V632.3H1964.4V630.5H1966.2V636.0H1969.9V634.1H1971.7V630.5H1975.4V628.7H1977.2V630.5H1982.7V634.1H1984.5V636.0H1988.2V632.3H1990.0V637.8H1991.8V634.1H1993.7V625.0H1995.5V630.5H1997.3V634.1H1999.1V637.8H2002.8V636.0H2004.6V637.8H2006.5V636.0H2008.3V637.8H2010.1V634.1H2011.9V637.8H2013.8V636.0H2017.4V639.6H2019.2V641.5H2022.9V636.0H2024.7V634.1H2026.6V637.8H2028.4V636.0H2030.2V999999999.2H2032.0V1000000001.0H2030.2V650.6H2028.4V646.9H2026.6V645.1H2024.7V646.9H2022.9V648.8H2019.2V646.9H2017.4V650.6H2015.6V645.1H2013.8V646.9H2010.1V643.3H2008.3V645.1H2006.5V657.9H2004.6V643.3H2002.8V646.9H2001.0V650.6H1999.1V646.9H1995.5V643.3H1993.7V646.9H1990.0V643.3H1988.2V641.5H1986.3V646.9H1984.5V641.5H1979.0V643.3H1977.2V646.9H1975.4V639.6H1973.6V646.9H1971.7V639.6H1968.1V645.1H1966.2V641.5H1964.4V643.3H1962.6V648.8H1960.8V645.1H1958.9V639.6H1957.1V641.5H1955.3V643.3H1953.5V646.9H1951.6V645.1H1949.8V646.9H1948.0V639.6H1946.1V641.5H1942.5V637.8H1940.7V643.3H1938.8V634.1H1937.0V636.0H1935.2V637.8H1931.5V639.6H1929.7V641.5H1927.9V637.8H1926.0V634.1H1924.2V636.0H1922.4V630.5H1920.6V639.6H1918.7V636.0H1916.9V634.1H1915.1V636.0H1911.4V634.1H1909.6V637.8H1905.9V626.8H1904.1V634.1H1902.3V626.8H1900.5V630.5H1898.6V628.7H1896.8V623.2H1895.0V626.8H1893.1V619.5H1891.3V625.0H1889.5V623.2H1887.7V619.5H1885.8V615.9H1882.2V614.0H1878.5V610.4H1876.7V612.2H1874.9V608.6H1873.0V610.4H1871.2V597.6H1869.4V603.1H1867.6V597.6H1865.7V599.4H1863.9V590.3H1862.1V586.6H1860.3V575.7H1858.4V577.5H1856.6V573.8H1854.8V575.7H1852.9V568.4H1851.1V570.2H1849.3V573.8H1847.5V575.7H1843.8V583.0H1842.0V581.1H1840.1V584.8H1838.3V586.6H1834.7V590.3H1832.8V595.8H1831.0V592.1H1829.2V593.9H1825.5V599.4H1823.7V597.6H1821.9V599.4H1820.0V601.2H1816.4V597.6H1810.9V599.4H1809.1V593.9H1807.3V597.6H1805.4V592.1H1801.8V590.3H1799.9V588.5H1796.3V584.8H1794.5V575.7H1792.6V579.3H1790.8V575.7H1789.0V568.4H1787.2V581.1H1785.3V561.0H1783.5V553.7H1781.7V548.2H1778.0V540.9H1776.2V537.3H1774.4V530.0H1772.5V526.3H1770.7V511.7H1768.9V504.4H1767.0V493.4H1765.2V491.6H1761.6V487.9H1759.7V466.0H1757.9V467.8H1756.1V473.3H1754.3V478.8H1752.4V484.3H1750.6V497.1H1748.8V504.4H1746.9V508.0H1745.1V522.7H1743.3V539.1H1741.5V542.8H1737.8V555.6H1736.0V564.7H1734.2V566.5H1732.3V570.2H1730.5V579.3H1728.7V583.0H1726.8V588.5H1725.0V593.9H1723.2V595.8H1721.4V606.7H1719.5V608.6H1717.7V612.2H1715.9V608.6H1714.1V614.0H1712.2V615.9H1710.4V619.5H1708.6V623.2H1706.7V621.4H1703.1V625.0H1701.3V623.2H1699.4V628.7H1697.6V630.5H1695.8V626.8H1693.9V634.1H1692.1V639.6H1690.3V628.7H1688.5V632.3H1686.6V636.0H1683.0V634.1H1677.5V632.3H1675.7V636.0H1673.8V639.6H1672.0V643.3H1670.2V645.1H1668.4V639.6H1666.5V643.3H1664.7V645.1H1662.9V646.9H1661.1V643.3H1659.2V641.5H1655.6V643.3H1653.7V641.5H1650.1V643.3H1646.4V641.5H1644.6V643.3H1641.0V646.9H1639.1V650.6H1635.5V645.1H1633.6V652.4H1631.8V648.8H1628.2V645.1H1622.7V646.9H1620.8V645.1H1617.2V643.3H1615.4V650.6H1613.5V652.4H1611.7V645.1H1609.9V646.9H1608.1V645.1H1606.2V650.6H1604.4V646.9H1600.7V645.1H1598.9V648.8H1597.1V654.2H1595.3V643.3H1593.4V645.1H1591.6V643.3H1589.8V646.9H1588.0V645.1H1586.1V643.3H1584.3V646.9H1582.5V641.5H1575.2V637.8H1569.7V643.3H1567.9V646.9H1566.0V643.3H1564.2V639.6H1562.4V637.8H1560.5V641.5H1558.7V646.9H1556.9V637.8H1551.4V639.6H1549.6V637.8H1547.7V632.3H1545.9V636.0H1544.1V634.1H1542.3V636.0H1540.4V632.3H1538.6V630.5H1535.0V632.3H1533.1V630.5H1531.3V632.3H1529.5V628.7H1527.6V625.0H1524.0V630.5H1522.2V628.7H1520.3V623.2H1518.5V619.5H1513.0V623.2H1511.2V626.8H1509.4V612.2H1507.5V619.5H1505.7V615.9H1502.1V610.4H1500.2V608.6H1498.4V604.9H1496.6V603.1H1494.8V597.6H1492.9V592.1H1491.1V586.6H1489.3V577.5H1487.4V573.8H1485.6V570.2H1483.8V564.7H1482.0V562.9H1480.1V557.4H1478.3V539.1H1474.6V526.3H1472.8V517.2H1471.0V511.7H1469.2V515.4H1467.3V504.4H1465.5V508.0H1463.7V517.2H1461.9V519.0H1460.0V542.8H1458.2V544.6H1456.4V553.7H1454.5V559.2H1452.7V572.0H1450.9V577.5H1449.1V588.5H1447.2V592.1H1445.4V601.2H1443.6V604.9H1441.8V610.4H1438.1V617.7H1436.3V619.5H1434.4V621.4H1432.6V630.5H1430.8V626.8H1429.0V630.5H1425.3V626.8H1423.5V632.3H1421.7V636.0H1418.0V639.6H1416.2V637.8H1414.3V639.6H1412.5V641.5H1410.7V639.6H1405.2V641.5H1403.4V643.3H1401.5V645.1H1399.7V643.3H1397.9V648.8H1396.1V645.1H1394.2V648.8H1392.4V645.1H1390.6V646.9H1386.9V645.1H1385.1V648.8H1383.3V650.6H1379.6V646.9H1376.0V650.6H1370.5V652.4H1366.8V654.2H1365.0V650.6H1363.2V654.2H1361.3V652.4H1359.5V654.2H1355.9V650.6H1354.0V652.4H1350.4V654.2H1348.6V652.4H1346.7V654.2H1343.1V648.8H1341.2V656.1H1337.6V654.2H1335.8V650.6H1333.9V652.4H1332.1V650.6H1330.3V652.4H1328.4V656.1H1326.6V654.2H1324.8V650.6H1323.0V652.4H1321.1V656.1H1319.3V654.2H1317.5V652.4H1315.7V656.1H1313.8V650.6H1312.0V657.9H1310.2V654.2H1308.3V650.6H1304.7V654.2H1299.2V652.4H1295.6V654.2H1291.9V656.1H1290.1V657.9H1288.2V650.6H1286.4V652.4H1279.1V656.1H1277.3V654.2H1275.5V659.7H1273.6V663.4H1271.8V654.2H1268.1V656.1H1264.5V652.4H1262.7V656.1H1259.0V657.9H1255.3V656.1H1253.5V657.9H1251.7V656.1H1248.0V654.2H1246.2V656.1H1244.4V654.2H1240.7V657.9H1238.9V656.1H1237.1V654.2H1235.2V656.1H1227.9V654.2H1220.6V652.4H1218.8V656.1H1217.0V652.4H1215.1V656.1H1211.5V652.4H1209.7V656.1H1207.8V654.2H1206.0V652.4H1204.2V654.2H1198.7V652.4H1196.9V654.2H1191.4V652.4H1189.6V656.1H1187.7V652.4H1185.9V654.2H1182.2V656.1H1180.4V652.4H1178.6V656.1H1176.8V652.4H1174.9V650.6H1173.1V652.4H1171.3V654.2H1164.0V656.1H1162.1V650.6H1160.3V652.4H1158.5V650.6H1156.7V652.4H1153.0V654.2H1151.2V652.4H1149.4V654.2H1147.5V657.9H1145.7V652.4H1142.0V654.2H1138.4V648.8H1132.9V650.6H1131.1V648.8H1127.4V650.6H1125.6V646.9H1123.8V650.6H1121.9V652.4H1120.1V646.9H1118.3V648.8H1116.5V645.1H1111.0V646.9H1109.1V645.1H1107.3V641.5H1100.0V639.6H1098.2V643.3H1096.4V636.0H1092.7V639.6H1090.9V637.8H1089.0V636.0H1087.2V634.1H1085.4V632.3H1083.6V630.5H1079.9V628.7H1078.1V630.5H1076.3V628.7H1074.4V630.5H1072.6V625.0H1070.8V628.7H1067.1V623.2H1063.5V621.4H1061.6V617.7H1059.8V621.4H1058.0V615.9H1056.2V614.0H1054.3V610.4H1052.5V604.9H1048.8V603.1H1047.0V601.2H1045.2V597.6H1041.5V590.3H1039.7V583.0H1037.9V581.1H1036.0V575.7H1034.2V568.4H1032.4V561.0H1030.6V557.4H1028.7V553.7H1026.9V540.9H1025.1V531.8H1023.3V517.2H1021.4V509.9H1019.6V504.4H1017.8V493.4H1015.9V491.6H1014.1V478.8H1012.3V469.7H1008.6V467.8H1006.8V475.1H1005.0V480.6H1003.2V489.8H1001.3V498.9H999.5V506.2H997.7V519.0H995.8V517.2H994.0V526.3H992.2V535.5H990.4V540.9H988.5V544.6H986.7V551.9H984.9V555.6H983.1V561.0H981.2V557.4H979.4V559.2H977.6V566.5H973.9V572.0H972.1V570.2H970.3V572.0H968.4V575.7H966.6V577.5H964.8V573.8H962.9V572.0H961.1V573.8H959.3V579.3H957.5V577.5H955.6V579.3H953.8V575.7H952.0V573.8H950.2V570.2H948.3V572.0H946.5V570.2H944.7V572.0H942.8V570.2H941.0V575.7H939.2V568.4H937.4V570.2H935.5V566.5H933.7V561.0H931.9V562.9H930.1V559.2H928.2V553.7H924.6V551.9H920.9V544.6H919.1V540.9H917.3V535.5H915.4V531.8H913.6V526.3H911.8V520.8H910.0V517.2H908.1V509.9H906.3V508.0H904.5V498.9H902.6V487.9H899.0V473.3H897.2V466.0H895.3V455.0H893.5V444.1H891.7V425.8H889.8V418.5H888.0V409.4H886.2V374.6H884.4V349.1H882.5V310.7H880.7V281.4H878.9V266.8H877.1V237.6H875.2V184.6H873.4V160.8H871.6V175.4H869.7V191.9H867.9V224.8H866.1V299.7H864.3V352.7H862.4V380.1H860.6V407.5H858.8V464.2H857.0V491.6H855.1V515.4H853.3V533.6H851.5V542.8H849.6V559.2H847.8V568.4H846.0V575.7H844.2V581.1H842.3V586.6H840.5V597.6H838.7V601.2H836.9V604.9H835.0V608.6H833.2V610.4H831.4V615.9H829.5V619.5H825.9V630.5H824.1V628.7H822.2V630.5H820.4V632.3H816.7V636.0H814.9V637.8H813.1V639.6H809.4V637.8H805.8V641.5H800.3V645.1H798.5V646.9H796.6V645.1H794.8V641.5H793.0V645.1H787.5V646.9H785.7V643.3H783.9V648.8H780.2V646.9H778.4V648.8H776.5V650.6H774.7V648.8H769.2V646.9H767.4V648.8H763.8V652.4H761.9V648.8H760.1V650.6H758.3V648.8H756.4V652.4H754.6V656.1H752.8V654.2H751.0V652.4H749.1V648.8H747.3V652.4H743.6V650.6H738.2V654.2H736.3V650.6H734.5V654.2H732.7V652.4H729.0V650.6H725.4V652.4H718.1V650.6H714.4V654.2H712.6V652.4H705.3V657.9H703.4V654.2H701.6V650.6H698.0V654.2H696.1V656.1H694.3V654.2H692.5V652.4H690.7V650.6H688.8V654.2H685.2V652.4H683.3V650.6H679.7V654.2H677.9V652.4H676.0V654.2H674.2V656.1H672.4V654.2H666.9V650.6H661.4V652.4H659.6V654.2H657.8V650.6H655.9V654.2H654.1V652.4H652.3V656.1H650.4V652.4H648.6V654.2H646.8V656.1H645.0V652.4H641.3V656.1H639.5V654.2H635.8V652.4H634.0V654.2H632.2V652.4H623.0V654.2H621.2V656.1H619.4V654.2H617.6V652.4H610.2V654.2H608.4V652.4H606.6V654.2H604.8V652.4H602.9V654.2H599.3V652.4H590.1V650.6H588.3V654.2H586.5V656.1H584.7V652.4H581.0V656.1H579.2V650.6H577.3V652.4H575.5V654.2H573.7V652.4H570.0V650.6H568.2V656.1H564.6V652.4H562.7V656.1H560.9V652.4H557.2V650.6H555.4V652.4H553.6V654.2H551.8V652.4H548.1V654.2H546.3V652.4H542.6V650.6H539.0V654.2H537.1V652.4H531.7V654.2H529.8V652.4H524.3V654.2H518.9V652.4H515.2V650.6H513.4V652.4H509.7V657.9H507.9V652.4H504.2V650.6H502.4V652.4H498.8V650.6H496.9V652.4H495.1V650.6H493.3V652.4H491.5V650.6H489.6V648.8H487.8V650.6H486.0V652.4H484.1V650.6H482.3V652.4H475.0V650.6H473.2V652.4H471.4V648.8H469.5V650.6H467.7V652.4H465.9V650.6H460.4V652.4H456.7V650.6H451.2V652.4H449.4V650.6H447.6V652.4H443.9V650.6H442.1V652.4H440.3V648.8H436.6V646.9H434.8V650.6H431.1V652.4H427.5V650.6H422.0V652.4H420.2V648.8H418.4V650.6H416.5V646.9H414.7V650.6H407.4V652.4H405.6V654.2H403.7V652.4H400.1V650.6H398.3V648.8H396.4V652.4H390.9V650.6H389.1V646.9H387.3V648.8H385.5V650.6H381.8V648.8H380.0V652.4H378.1V650.6H370.8V648.8H369.0V650.6H361.7V648.8H359.9V650.6H358.0V652.4H356.2V648.8H352.6V650.6H348.9V652.4H347.1V648.8H341.6V650.6H339.8V652.4H337.9V648.8H332.5V646.9H330.6V650.6H327.0V646.9H325.2V650.6H323.3V648.8H321.5V650.6H319.7V648.8H317.8V650.6H314.2V652.4H312.4V648.8H305.1V650.6H301.4V648.8H294.1V650.6H292.3V648.8H288.6V650.6H286.8V648.8H274.0V650.6H272.2V648.8H268.5V646.9H266.7V648.8H264.8V646.9H263.0V648.8H259.4V646.9H257.5V650.6H255.7V648.8H252.1V646.9H248.4V648.8H246.6V652.4H244.7V648.8H239.3V646.9H237.4V648.8H235.6V646.9H233.8V648.8H231.9V650.6H230.1V648.8H228.3V646.9H224.6V648.8H221.0V646.9H217.3V648.8H215.5V650.6H211.8V648.8H206.4V652.4H202.7V650.6H200.9V648.8H197.2V650.6H195.4V648.8H193.6V650.6H191.7V648.8H186.3V650.6H184.4V648.8H179.0V652.4H177.1V650.6H175.3V648.8H173.5V650.6H171.6V652.4H169.8V650.6H155.2V652.4H153.4V650.6H147.9V652.4H142.4V650.6H138.7V654.2H135.1V650.6H133.3V652.4H131.4V650.6H129.6V652.4H127.8V654.2H126.0V652.4H122.3Z" fill="#FF0000" shape-rendering="crispEdges"/>
<line x1="868.65" y1="154.1" x2="868.65" y2="1155.6" stroke="#AD682E" stroke-width="3.80" stroke-dasharray="29.6 10.6"/>
<line x1="907.18" y1="154.1" x2="907.18" y2="1155.6" stroke="#B0B0B0" stroke-width="1.95" stroke-dasharray="10.1 4.5"/>
<line x1="909.05" y1="154.1" x2="909.05" y2="1155.6" stroke="#555555" stroke-width="1.80" stroke-dasharray="10.1 4.5"/>
<line x1="982.00" y1="154.1" x2="982.00" y2="1155.6" stroke="#0000CC" stroke-width="1.90" stroke-dasharray="15.0 10.6 4.0 10.6"/>
<line x1="983.98" y1="154.1" x2="983.98" y2="1155.6" stroke="#6666E0" stroke-width="2.05" stroke-dasharray="15.0 10.6 4.0 10.6"/>
<line x1="1008.00" y1="465.2" x2="1008.00" y2="1155.6" stroke="#AD682E" stroke-width="3.70" stroke-dasharray="29.6 10.6"/>
<line x1="1055.90" y1="466.4" x2="1055.90" y2="1155.6" stroke="#555555" stroke-width="3.90" stroke-dasharray="10.1 4.5"/>
<line x1="1143.05" y1="470.2" x2="1143.05" y2="1155.6" stroke="#0000CC" stroke-width="3.80" stroke-dasharray="15.0 10.6 4.0 10.6"/>
<line x1="1459.15" y1="521.8" x2="1459.15" y2="1155.6" stroke="#AD682E" stroke-width="3.80" stroke-dasharray="29.6 10.6"/>
<line x1="1527.90" y1="521.8" x2="1527.90" y2="1155.6" stroke="#555555" stroke-width="3.90" stroke-dasharray="10.1 4.5"/>
<line x1="1677.40" y1="521.8" x2="1677.40" y2="1155.6" stroke="#0000CC" stroke-width="3.90" stroke-dasharray="15.0 10.6 4.0 10.6"/>
<line x1="1752.10" y1="479.9" x2="1752.10" y2="1155.6" stroke="#AD682E" stroke-width="3.90" stroke-dasharray="29.6 10.6"/>
<line x1="1842.62" y1="574.1" x2="1842.62" y2="1155.6" stroke="#D6B396" stroke-width="2.25" stroke-dasharray="29.6 10.6"/>
<line x1="1844.80" y1="574.1" x2="1844.80" y2="1155.6" stroke="#AD682E" stroke-width="2.10" stroke-dasharray="29.6 10.6"/>
<line x1="1849.90" y1="480.6" x2="1849.90" y2="1155.6" stroke="#555555" stroke-width="4.10" stroke-dasharray="10.1 4.5"/>
<line x1="1946.60" y1="572.4" x2="1946.60" y2="1155.6" stroke="#555555" stroke-width="2.10" stroke-dasharray="10.1 4.5"/>
<line x1="1948.78" y1="572.4" x2="1948.78" y2="1155.6" stroke="#B0B0B0" stroke-width="2.25" stroke-dasharray="10.1 4.5"/>
<line x1="382.10" y1="87.4" x2="382.10" y2="278.5" stroke="#AD682E" stroke-width="3.70" stroke-dasharray="29.6 10.6"/>
<line x1="452.95" y1="87.4" x2="452.95" y2="278.5" stroke="#0000CC" stroke-width="3.80" stroke-dasharray="15.0 10.6 4.0 10.6"/>
<line x1="523.55" y1="87.4" x2="523.55" y2="280.8" stroke="#555555" stroke-width="4.00" stroke-dasharray="10.1 4.5"/>
<g fill="#000">
<rect x="120.2" y="33.7" width="2.2" height="1138.3" fill="#8a8a8a"/>
<rect x="122.2" y="33.7" width="2.2" height="1138.3"/>
<rect x="109.8" y="1155.3" width="1922.9" height="4.4"/>
<rect x="109.8" y="33.7" width="12.4" height="2.1"/>
<rect x="109.8" y="35.8" width="10.6" height="1.9" fill="#808080"/>
<rect x="109.8" y="173.8" width="12.4" height="4"/>
<rect x="109.8" y="314.1" width="12.4" height="4"/>
<rect x="109.8" y="454.3" width="12.4" height="4"/>
<rect x="109.8" y="594.6" width="12.4" height="4"/>
<rect x="109.8" y="734.8" width="12.4" height="4"/>
<rect x="109.8" y="875.0" width="12.4" height="4"/>
<rect x="109.8" y="1015.3" width="12.4" height="4"/>
<rect x="142.8" y="1157.5" width="3.8" height="10.3"/>
<rect x="165.3" y="1157.5" width="3.8" height="10.3"/>
<rect x="187.7" y="1157.5" width="3.8" height="10.3"/>
<rect x="210.2" y="1157.5" width="3.8" height="10.3"/>
<rect x="232.7" y="1157.5" width="3.8" height="10.3"/>
<rect x="255.1" y="1157.5" width="3.8" height="10.3"/>
<rect x="277.6" y="1157.5" width="3.8" height="10.3"/>
<rect x="300.0" y="1157.5" width="3.8" height="10.3"/>
<rect x="322.4" y="1157.5" width="3.8" height="10.3"/>
<rect x="344.9" y="1157.5" width="3.8" height="14.5"/>
<rect x="367.4" y="1157.5" width="3.8" height="10.3"/>
<rect x="389.8" y="1157.5" width="3.8" height="10.3"/>
<rect x="412.2" y="1157.5" width="3.8" height="10.3"/>
<rect x="434.7" y="1157.5" width="3.8" height="10.3"/>
<rect x="457.2" y="1157.5" width="3.8" height="10.3"/>
<rect x="479.6" y="1157.5" width="3.8" height="10.3"/>
<rect x="502.1" y="1157.5" width="3.8" height="10.3"/>
<rect x="524.5" y="1157.5" width="3.8" height="10.3"/>
<rect x="547.0" y="1157.5" width="3.8" height="10.3"/>
<rect x="569.4" y="1157.5" width="3.8" height="14.5"/>
<rect x="591.9" y="1157.5" width="3.8" height="10.3"/>
<rect x="614.3" y="1157.5" width="3.8" height="10.3"/>
<rect x="636.8" y="1157.5" width="3.8" height="10.3"/>
<rect x="659.2" y="1157.5" width="3.8" height="10.3"/>
<rect x="681.6" y="1157.5" width="3.8" height="10.3"/>
<rect x="704.1" y="1157.5" width="3.8" height="10.3"/>
<rect x="726.5" y="1157.5" width="3.8" height="10.3"/>
<rect x="749.0" y="1157.5" width="3.8" height="10.3"/>
<rect x="771.4" y="1157.5" width="3.8" height="10.3"/>
<rect x="793.9" y="1157.5" width="3.8" height="14.5"/>
<rect x="816.3" y="1157.5" width="3.8" height="10.3"/>
<rect x="838.8" y="1157.5" width="3.8" height="10.3"/>
<rect x="861.2" y="1157.5" width="3.8" height="10.3"/>
<rect x="883.7" y="1157.5" width="3.8" height="10.3"/>
<rect x="906.1" y="1157.5" width="3.8" height="10.3"/>
<rect x="928.6" y="1157.5" width="3.8" height="10.3"/>
<rect x="951.0" y="1157.5" width="3.8" height="10.3"/>
<rect x="973.5" y="1157.5" width="3.8" height="10.3"/>
<rect x="995.9" y="1157.5" width="3.8" height="10.3"/>
<rect x="1018.4" y="1157.5" width="3.8" height="14.5"/>
<rect x="1040.8" y="1157.5" width="3.8" height="10.3"/>
<rect x="1063.3" y="1157.5" width="3.8" height="10.3"/>
<rect x="1085.8" y="1157.5" width="3.8" height="10.3"/>
<rect x="1108.2" y="1157.5" width="3.8" height="10.3"/>
<rect x="1130.6" y="1157.5" width="3.8" height="10.3"/>
<rect x="1153.1" y="1157.5" width="3.8" height="10.3"/>
<rect x="1175.5" y="1157.5" width="3.8" height="10.3"/>
<rect x="1198.0" y="1157.5" width="3.8" height="10.3"/>
<rect x="1220.4" y="1157.5" width="3.8" height="10.3"/>
<rect x="1242.9" y="1157.5" width="3.8" height="14.5"/>
<rect x="1265.3" y="1157.5" width="3.8" height="10.3"/>
<rect x="1287.8" y="1157.5" width="3.8" height="10.3"/>
<rect x="1310.2" y="1157.5" width="3.8" height="10.3"/>
<rect x="1332.7" y="1157.5" width="3.8" height="10.3"/>
<rect x="1355.1" y="1157.5" width="3.8" height="10.3"/>
<rect x="1377.6" y="1157.5" width="3.8" height="10.3"/>
<rect x="1400.0" y="1157.5" width="3.8" height="10.3"/>
<rect x="1422.5" y="1157.5" width="3.8" height="10.3"/>
<rect x="1444.9" y="1157.5" width="3.8" height="10.3"/>
<rect x="1467.4" y="1157.5" width="3.8" height="14.5"/>
<rect x="1489.8" y="1157.5" width="3.8" height="10.3"/>
<rect x="1512.3" y="1157.5" width="3.8" height="10.3"/>
<rect x="1534.7" y="1157.5" width="3.8" height="10.3"/>
<rect x="1557.2" y="1157.5" width="3.8" height="10.3"/>
<rect x="1579.6" y="1157.5" width="3.8" height="10.3"/>
<rect x="1602.1" y="1157.5" width="3.8" height="10.3"/>
<rect x="1624.5" y="1157.5" width="3.8" height="10.3"/>
<rect x="1647.0" y="1157.5" width="3.8" height="10.3"/>
<rect x="1669.4" y="1157.5" width="3.8" height="10.3"/>
<rect x="1691.9" y="1157.5" width="3.8" height="14.5"/>
<rect x="1714.3" y="1157.5" width="3.8" height="10.3"/>
<rect x="1736.8" y="1157.5" width="3.8" height="10.3"/>
<rect x="1759.2" y="1157.5" width="3.8" height="10.3"/>
<rect x="1781.7" y="1157.5" width="3.8" height="10.3"/>
<rect x="1804.1" y="1157.5" width="3.8" height="10.3"/>
<rect x="1826.6" y="1157.5" width="3.8" height="10.3"/>
<rect x="1849.0" y="1157.5" width="3.8" height="10.3"/>
<rect x="1871.5" y="1157.5" width="3.8" height="10.3"/>
<rect x="1893.9" y="1157.5" width="3.8" height="10.3"/>
<rect x="1916.4" y="1157.5" width="3.8" height="14.5"/>
<rect x="1938.8" y="1157.5" width="3.8" height="10.3"/>
<rect x="1961.3" y="1157.5" width="3.8" height="10.3"/>
<rect x="1983.7" y="1157.5" width="3.8" height="10.3"/>
<rect x="2006.2" y="1157.5" width="3.8" height="10.3"/>
<rect x="2028.6" y="1157.5" width="3.8" height="10.3"/>
</g>
<text transform="translate(122.60,1228.0) scale(0.95,1)" font-size="48.6" text-anchor="middle">5</text>
<g clip-path="url(#c0)"><text transform="translate(0,1228.00) scale(0.95,1.0)" x="340.00 365.58" y="0" font-size="48.6">15</text></g>
<text transform="translate(571.60,1228.0) scale(0.95,1)" font-size="48.6" text-anchor="middle">25</text>
<text transform="translate(796.10,1228.0) scale(0.95,1)" font-size="48.6" text-anchor="middle">35</text>
<text transform="translate(1020.60,1228.0) scale(0.95,1)" font-size="48.6" text-anchor="middle">45</text>
<text transform="translate(1245.10,1228.0) scale(0.95,1)" font-size="48.6" text-anchor="middle">55</text>
<text transform="translate(1469.60,1228.0) scale(0.95,1)" font-size="48.6" text-anchor="middle">65</text>
<text transform="translate(1694.10,1228.0) scale(0.95,1)" font-size="48.6" text-anchor="middle">75</text>
<text transform="translate(1918.60,1228.0) scale(0.95,1)" font-size="48.6" text-anchor="middle">85</text>
<text transform="translate(0,1298.8) scale(1,0.9566)" font-size="50.7" xml:space="preserve"><tspan x="914.4">2ϴ </tspan><tspan x="1009.7">(degrees)</tspan></text>
<text transform="translate(56.73,801.25) rotate(-90) scale(1.0275,1)" font-size="49.36" xml:space="preserve">Intensity (arbitrary units)</text>
<text transform="translate(356.00,55.70) scale(0.9914,1)" font-size="40.43" fill="#AD682E" xml:space="preserve">Au</text>
<text transform="translate(426.59,55.78) scale(0.9556,1)" font-size="42.11" fill="#0000CC" xml:space="preserve">Cu</text>
<text transform="translate(498.12,56.10) scale(0.9713,1)" font-size="40.82" fill="#555555" xml:space="preserve">Pd</text>
<g clip-path="url(#c1)"><text transform="translate(0,114.60) scale(1.0,1.04)" x="806.00 847.60 887.50" y="0" font-size="84.7">111</text></g>
<text transform="translate(1003.90,434.37) scale(0.9643,1)" font-size="82.96" xml:space="preserve">200</text>
<text transform="translate(1386.50,439.66) scale(0.9562,1)" font-size="83.66" xml:space="preserve">220</text>
<g clip-path="url(#c2)"><text transform="translate(0,437.00) scale(1.0,1.04)" x="1686.00 1732.40 1772.00" y="0" font-size="81">311</text></g>
<text transform="translate(1866.90,507.00) scale(0.9444,1)" font-size="84.71" xml:space="preserve">222</text>
<text transform="translate(257.38,614.39) scale(0.9943,1)" font-size="81.08" fill="#FF0000" xml:space="preserve">Au-Cu-Pd</text>
<text transform="translate(305.09,1040.96) scale(0.9527,1)" font-size="84.23" fill="#0000CC" xml:space="preserve">Au-Cu</text>
<defs><clipPath id="c0"><rect x="321.00" y="1191.55" width="54.00" height="31.09"/><rect x="333.56" y="1222.14" width="6.77" height="7.36"/><rect x="347.30" y="1222.14" width="25.67" height="8.36"/></clipPath><clipPath id="c1"><rect x="804.00" y="48.53" width="134.32" height="56.68"/><rect x="825.54" y="104.72" width="12.09" height="11.38"/><rect x="867.14" y="104.72" width="12.09" height="11.38"/><rect x="907.04" y="104.72" width="12.09" height="11.38"/></clipPath><clipPath id="c2"><rect x="1684.00" y="373.82" width="136.60" height="54.19"/><rect x="1686.00" y="427.51" width="45.04" height="11.99"/><rect x="1751.07" y="427.51" width="11.58" height="10.99"/><rect x="1790.67" y="427.51" width="11.58" height="10.99"/></clipPath></defs>
</svg></body></html>
